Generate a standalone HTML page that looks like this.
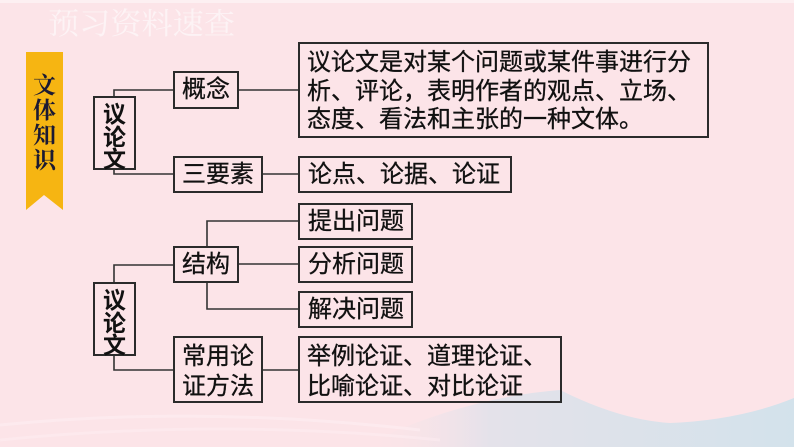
<!DOCTYPE html>
<html><head><meta charset="utf-8">
<style>
html,body{margin:0;padding:0;}
body{width:794px;height:447px;position:relative;overflow:hidden;background:#fce4e8;font-family:"Liberation Sans","Noto Sans CJK SC",sans-serif;}
.b{position:absolute;box-sizing:border-box;border:2px solid #2b2b2b;color:#111;font-size:24px;line-height:24px;display:flex;align-items:center;justify-content:center;white-space:nowrap;-webkit-text-stroke:0.3px #111;}
.l{justify-content:flex-start;padding-left:8px;}
.t{position:absolute;white-space:nowrap;}
.s{-webkit-text-stroke:0.3px #111;}
</style></head><body>
<svg width="794" height="447" style="position:absolute;left:0;top:0">
<defs>
<linearGradient id="bg" x1="0" y1="0" x2="1" y2="0">
<stop offset="0" stop-color="#fce4e8" stop-opacity="0"/>
<stop offset="0.3" stop-color="#e4e2ea"/>
<stop offset="1" stop-color="#d3e2eb"/>
</linearGradient>
</defs>
<rect x="0" y="0" width="794" height="3" fill="#fdf0f2"/>
<path d="M360 447 Q460 398 560 390 Q620 420 670 423 Q740 420 794 398 L794 447 Z" fill="url(#bg)"/>
<path d="M0 425 Q200 405 420 430" stroke="#fdeef1" stroke-width="3" fill="none" opacity="0.6"/>
<path d="M0 440 Q220 418 440 440" stroke="#fdeef1" stroke-width="3" fill="none" opacity="0.5"/>
<polygon points="26,52 63,52 63,210 44,195 26,210" fill="#f6b512"/>
<g stroke="#333" stroke-width="1.6" fill="none">
<polyline points="114,96 114,90 173,90"/>
<polyline points="114,170 114,174 173,174"/>
<line x1="239" y1="90" x2="298" y2="90"/>
<line x1="263" y1="174" x2="298" y2="174"/>
<polyline points="114,282 114,265 173,265"/>
<polyline points="114,356 114,370 173,370"/>
<line x1="239" y1="264" x2="298" y2="264"/>
<polyline points="207,246 207,221 298,221"/>
<polyline points="207,283 207,309 298,309"/>
<line x1="263" y1="370" x2="298" y2="370"/>
</g>
<text x="48" y="34" font-size="30" fill="#fdf3f5" font-family="'Liberation Serif','Noto Serif CJK SC',serif" textLength="187" lengthAdjust="spacingAndGlyphs">预习资料速查</text>
</svg>

<div class="t" style="left:31px;top:73px;width:27px;font-size:23px;line-height:25px;color:#1b1a33;font-weight:700;font-family:'Liberation Serif','Noto Serif CJK SC',serif;text-align:center;white-space:normal;">文<br>体<br>知<br>识</div>

<div class="b" style="left:93px;top:96px;width:43px;height:74px;"></div>
<div class="t" style="left:93px;top:103px;width:43px;text-align:center;font-size:23px;line-height:22.5px;font-weight:700;color:#111;">议<br>论<br>文</div>

<div class="b" style="left:173px;top:71px;width:66px;height:38px;">概念</div>
<div class="b" style="left:173px;top:156px;width:90px;height:37px;">三要素</div>

<div class="b" style="left:298px;top:42px;width:411px;height:96px;display:block;"></div>
<div class="t s" style="left:307px;top:49px;font-size:24px;line-height:28.5px;color:#111;">议论文是对某个问题或某件事进行分<br>析、评论，表明作者的观点、立场、<br>态度、看法和主张的一种文体。</div>

<div class="b l" style="left:298px;top:156px;width:214px;height:37px;">论点、论据、论证</div>

<div class="b l" style="left:298px;top:203px;width:115px;height:37px;">提出问题</div>
<div class="b l" style="left:298px;top:246px;width:115px;height:37px;">分析问题</div>
<div class="b l" style="left:298px;top:291px;width:115px;height:37px;">解决问题</div>

<div class="b" style="left:173px;top:246px;width:66px;height:37px;">结构</div>

<div class="b" style="left:93px;top:282px;width:43px;height:74px;"></div>
<div class="t" style="left:93px;top:289px;width:43px;text-align:center;font-size:23px;line-height:22.5px;font-weight:700;color:#111;">议<br>论<br>文</div>

<div class="b" style="left:173px;top:336px;width:90px;height:67px;"></div>
<div class="t s" style="left:173px;top:342px;width:90px;text-align:center;font-size:24px;line-height:30px;color:#111;">常用论<br>证方法</div>

<div class="b" style="left:298px;top:336px;width:264px;height:67px;"></div>
<div class="t s" style="left:307px;top:342px;font-size:24px;line-height:30px;color:#111;">举例论证、道理论证、<br>比喻论证、对比论证</div>
</body></html>
